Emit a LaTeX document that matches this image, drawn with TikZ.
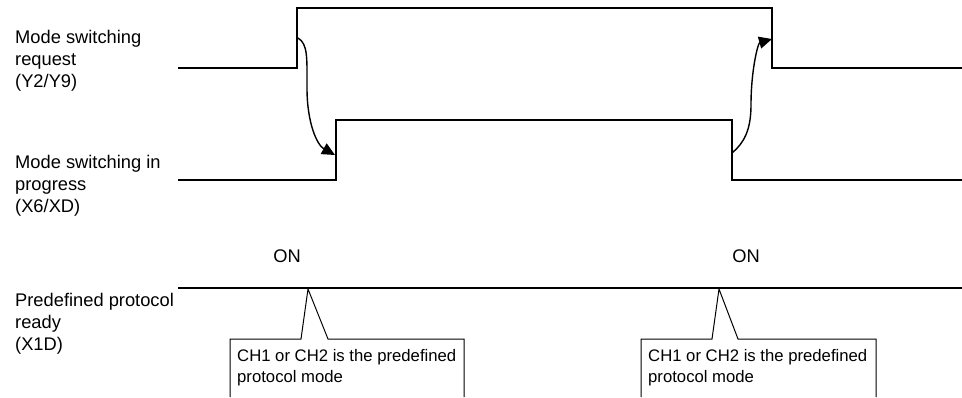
\documentclass[tikz,border=0pt]{standalone}
\usepackage{fontspec}
\setmainfont{Liberation Sans}
\usetikzlibrary{arrows.meta}

\begin{document}
\begin{tikzpicture}[x=1pt,y=-1pt,
  sig/.style={line width=2pt,line join=miter},
  flow/.style={line width=1.4pt,-{Triangle[length=13pt,width=12pt]}},
  callout/.style={line width=1pt},
  lbl/.style={anchor=west,align=left,inner sep=0pt,font=\fontsize{18.3}{22}\selectfont},
  note/.style={anchor=west,align=left,inner sep=0pt,font=\fontsize{16.7}{21}\selectfont}]
\useasboundingbox (0,0) rectangle (962,397);
% signal names
\node[lbl] (req) at (15,61) {Mode switching\\request\\(Y2/Y9)};
\node[lbl] (prog) at (15,186) {Mode switching in\\progress\\(X6/XD)};
\node[lbl] (rdy) at (15,324) {Predefined protocol\\ready\\(X1D)};
% edges
\coordinate (requp) at (297,8);
\coordinate (reqdn) at (772,8);
\coordinate (progup) at (336,120);
\coordinate (progdn) at (732,120);
\draw[sig] (178,68) -| (requp) -- (reqdn) |- (962,68);
\draw[sig] (178,180) -| (progup) -- (progdn) |- (962,180);
\draw[sig] (178,288) -- (962,288);
% causes
\coordinate (a1) at (298,38);
\coordinate (b1) at (335,155);
\coordinate (a2) at (732,153);
\coordinate (b2) at (772,39);
\draw[flow] (a1) .. controls +(10,6) and +(0,-30) .. ++(9,50)
  .. controls +(0,35) and +(-18,-10) .. (b1);
\draw[flow] (a2) .. controls +(12,-10) and +(0,25) .. ++(19,-48)
  .. controls +(0,-35) and +(-14,4) .. (b2);
% ON marks
\node[lbl,anchor=center] (on1) at (287,256) {ON};
\node[lbl,anchor=center] (on2) at (746,256) {ON};
% callouts
\coordinate (tip1) at (308,289);
\coordinate (tip2) at (719,289);
\draw[callout] (230,397) |- (301,339) -- (tip1) -- (328,339) -| (464,397);
\draw[callout] (641,397) |- (712,339) -- (tip2) -- (738,339) -| (876,397);
\node[note] (note1) at (237,368) {CH1 or CH2 is the predefined\\protocol mode};
\node[note] (note2) at (648,368) {CH1 or CH2 is the predefined\\protocol mode};
\end{tikzpicture}
\end{document}
